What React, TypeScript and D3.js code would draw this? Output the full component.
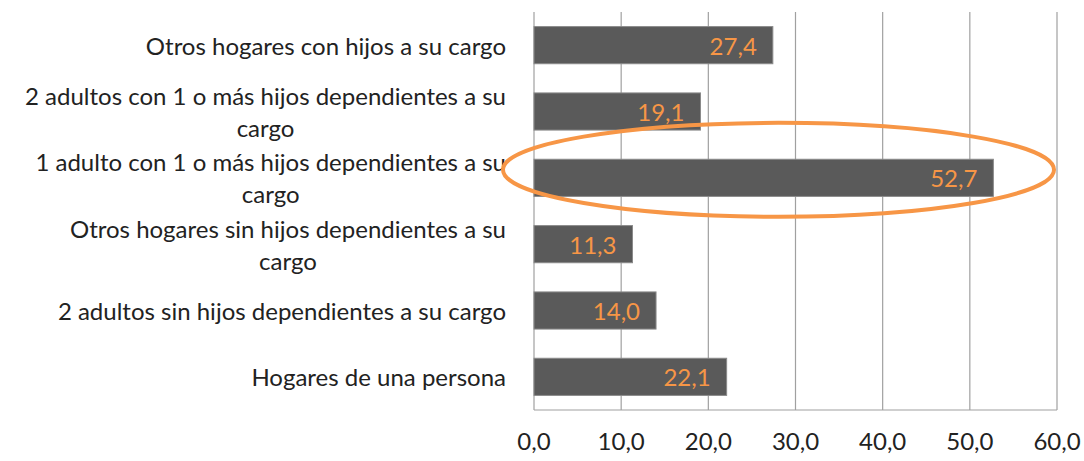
import React from "react";
import * as d3 from "d3";

const categories = [
  "Otros hogares con hijos a su cargo",
  "2 adultos con 1 o más hijos dependientes a su cargo",
  "1 adulto con 1 o más hijos dependientes a su cargo",
  "Otros hogares sin hijos dependientes a su cargo",
  "2 adultos sin hijos dependientes a su cargo",
  "Hogares de una persona",
];
const values = [27.4, 19.1, 52.7, 11.3, 14.0, 22.1];
const xTicks = [0, 10, 20, 30, 40, 50, 60];
const highlighted = "1 adulto con 1 o más hijos dependientes a su cargo";

const W = 1084;
const H = 461;
const FAMILY = "Lato";
const FONT = "Lato, 'Noto Sans', sans-serif";
const ORANGE = "#F79646";

let ctx: CanvasRenderingContext2D | null = null;
function measureAt(t: string, size: number): number {
  if (!ctx) {
    const c = document.createElement("canvas");
    ctx = c.getContext("2d");
  }
  if (!ctx) return t.length * size * 0.5;
  ctx.font = `${size}px ${FAMILY}`;
  return ctx.measureText(t).width;
}

// font size chosen so that the shortest category label spans ~262px as in the reference
const FS = Math.min(24, Math.max(17, (100 * 262) / measureAt("Hogares de una persona", 100)));
const measure = (t: string) => measureAt(t, FS);

function wrap(text: string, maxW: number): string[] {
  const words = text.split(" ");
  const lines: string[] = [];
  let cur = "";
  for (const w of words) {
    const test = cur ? cur + " " + w : w;
    if (measure(test) > maxW && cur) {
      lines.push(cur);
      cur = w;
    } else cur = test;
  }
  if (cur) lines.push(cur);
  return lines;
}

export default function App() {
  const left = 534;
  const right = 1057;
  const top = 12;
  const bottom = 410;

  const x = d3.scaleLinear().domain([0, 60]).range([left, right]);
  const y = d3.scaleBand<string>().domain(categories).range([top, bottom]).paddingInner(0.44).paddingOuter(0.22);
  const fmt = (v: number) => d3.format(".1f")(v).replace(".", ",");

  const labelRight = 506;
  const lineH = 32;

  const hy = (y(highlighted) ?? 0) + y.bandwidth() / 2;

  return (
    <svg width={W} height={H} style={{ position: "absolute", left: 0, top: 0, background: "#fff" }} fontFamily={FONT}>
      {xTicks.map((t) => (
        <line key={"g" + t} x1={x(t)} x2={x(t)} y1={top} y2={bottom} stroke="#a0a0a0" strokeWidth={1.2} />
      ))}
      <line x1={left} x2={right} y1={bottom} y2={bottom} stroke="#a0a0a0" strokeWidth={1.2} />
      {categories.map((c, i) => (
        <rect
          key={c}
          x={x(0)}
          y={y(c)}
          width={x(values[i]) - x(0)}
          height={y.bandwidth()}
          fill="#5a5a5a"
          stroke="#8a8a8a"
          strokeWidth={1}
        />
      ))}
      {categories.map((c, i) => (
        <text
          key={"v" + c}
          x={x(values[i]) - 16}
          y={(y(c) ?? 0) + y.bandwidth() / 2}
          textAnchor="end"
          dominantBaseline="central"
          fontSize={FS}
          fill={ORANGE}
        >
          {fmt(values[i])}
        </text>
      ))}
      {categories.map((c) => {
        const lines = wrap(c, 490);
        const bw = Math.max(...lines.map(measure));
        const cx = labelRight - bw / 2;
        const cy = (y(c) ?? 0) + y.bandwidth() / 2;
        const y0 = cy - ((lines.length - 1) * lineH) / 2;
        return (
          <text key={"l" + c} textAnchor="middle" fontSize={FS} fill="#222">
            {lines.map((ln, j) => (
              <tspan key={j} x={cx} y={y0 + j * lineH} dominantBaseline="central">
                {ln}
              </tspan>
            ))}
          </text>
        );
      })}
      {xTicks.map((t) => (
        <text key={"t" + t} x={x(t)} y={440} textAnchor="middle" dominantBaseline="central" fontSize={FS} fill="#222">
          {fmt(t)}
        </text>
      ))}
      <ellipse cx={778.5} cy={hy - 8} rx={275.5} ry={47} fill="none" stroke={ORANGE} strokeWidth={4} />
    </svg>
  );
}
